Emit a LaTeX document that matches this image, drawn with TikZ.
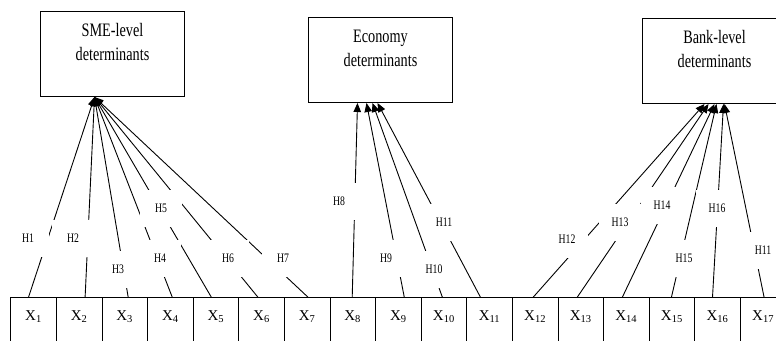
\documentclass[tikz,border=0pt]{standalone}
\usepackage{fontspec}
\setmainfont{Liberation Serif}
\newfontfamily\condfont[FakeStretch=0.75]{Liberation Serif}
\usetikzlibrary{arrows.meta}

\begin{document}
\begin{tikzpicture}[x=1pt,y=-1pt,
  every matrix/.style={ampersand replacement=\&,column sep=-0.8pt,inner sep=0pt},
  det/.style={draw,line width=1pt,text width=136pt,inner xsep=4pt,inner ysep=0pt,
    align=center,text height=25pt,text depth=60pt,anchor=north west,
    font=\condfont\fontsize{19}{24}\selectfont},
  var/.style={draw,line width=0.8pt,minimum width=45.6pt,inner sep=0pt,
    text height=22.5pt,text depth=30pt,font=\fontsize{15}{16}\selectfont},
  hyp/.style={-{Triangle[length=9pt,width=7.5pt]},line width=0.9pt},
  hlabel/.style={fill=white,minimum width=42pt,minimum height=37pt,inner sep=0pt,
    font=\condfont\fontsize{13}{14}\selectfont}]

\useasboundingbox (0,0) rectangle (776,340);
\clip (0,0) rectangle (776,340);

% Groups of determinants
\node[det] (sme) at (40,11) {SME-level\\determinants};
\node[det] (eco) at (308,17) {Economy\\determinants};
\node[det] (bank) at (642,18) {Bank-level\\determinants};

% Row of variables
\matrix (vars) [anchor=north west] at (10.1,297.1) {
  \node[var] (x1) {X\textsubscript{1}}; \& \node[var] (x2) {X\textsubscript{2}};
  \& \node[var] (x3) {X\textsubscript{3}}; \& \node[var] (x4) {X\textsubscript{4}};
  \& \node[var] (x5) {X\textsubscript{5}}; \& \node[var] (x6) {X\textsubscript{6}};
  \& \node[var] (x7) {X\textsubscript{7}}; \& \node[var] (x8) {X\textsubscript{8}};
  \& \node[var] (x9) {X\textsubscript{9}}; \& \node[var] (x10) {X\textsubscript{10}};
  \& \node[var] (x11) {X\textsubscript{11}}; \& \node[var] (x12) {X\textsubscript{12}};
  \& \node[var] (x13) {X\textsubscript{13}}; \& \node[var] (x14) {X\textsubscript{14}};
  \& \node[var] (x15) {X\textsubscript{15}}; \& \node[var] (x16) {X\textsubscript{16}};
  \& \node[var] (x17) {X\textsubscript{17}};
  \\
};

% Hypotheses towards each group
\draw[hyp] ([xshift=-5pt]x1.north) -- ([xshift=-18pt]sme.south);
\draw[hyp] ([xshift=6pt]x2.north) -- ([xshift=-18pt]sme.south);
\draw[hyp] ([xshift=3.5pt]x3.north) -- ([xshift=-18pt]sme.south);
\draw[hyp] ([xshift=2pt]x4.north) -- ([xshift=-18pt]sme.south);
\draw[hyp] ([xshift=-4.5pt]x5.north) -- ([xshift=-18pt]sme.south);
\draw[hyp] ([xshift=-3.5pt]x6.north) -- ([xshift=-18pt]sme.south);
\draw[hyp] ([xshift=1pt]x7.north) -- ([xshift=-18pt]sme.south);
\draw[hyp] ([xshift=-0.5pt]x8.north) -- ([xshift=-23pt]eco.south);
\draw[hyp] ([xshift=6pt]x9.north) -- ([xshift=-14pt]eco.south);
\draw[hyp] ([xshift=-1.5pt]x10.north) -- ([xshift=-8pt]eco.south);
\draw[hyp] ([xshift=-9pt]x11.north) -- ([xshift=-3pt]eco.south);
\draw[hyp] ([xshift=-2pt]x12.north) -- ([xshift=-10pt]bank.south);
\draw[hyp] ([xshift=-3.5pt]x13.north) -- ([xshift=-6pt]bank.south);
\draw[hyp] ([xshift=-4pt]x14.north) -- (bank.south);
\draw[hyp] ([xshift=-0.5pt]x15.north) -- ([xshift=2pt]bank.south);
\draw[hyp] ([xshift=-5pt]x16.north) -- ([xshift=9pt]bank.south);
\draw[hyp] ([xshift=1pt]x17.north) -- ([xshift=10pt]bank.south);

% Labels of the hypotheses
\node[hlabel] (h1) at (28,238) {H1};
\node[hlabel] (h2) at (73,238) {H2};
\node[hlabel] (h3) at (118,269) {H3};
\node[hlabel] (h4) at (160,258) {H4};
\node[hlabel] (h5) at (161,208) {H5};
\node[hlabel] (h6) at (228,258) {H6};
\node[hlabel] (h7) at (283,258) {H7};
\node[hlabel] (h8) at (339,201) {H8};
\node[hlabel] (h9) at (386,258) {H9};
\node[hlabel] (h10) at (434,269) {H10};
\node[hlabel] (h11) at (444,222) {H11};
\node[hlabel] (h12) at (567,239) {H12};
\node[hlabel] (h13) at (620,222) {H13};
\node[hlabel] (h14) at (662,205) {H14};
\node[hlabel] (h15) at (684,258) {H15};
\node[hlabel] (h16) at (717,208) {H16};
\node[hlabel] (h17) at (763,250) {H11};

\end{tikzpicture}
\end{document}
